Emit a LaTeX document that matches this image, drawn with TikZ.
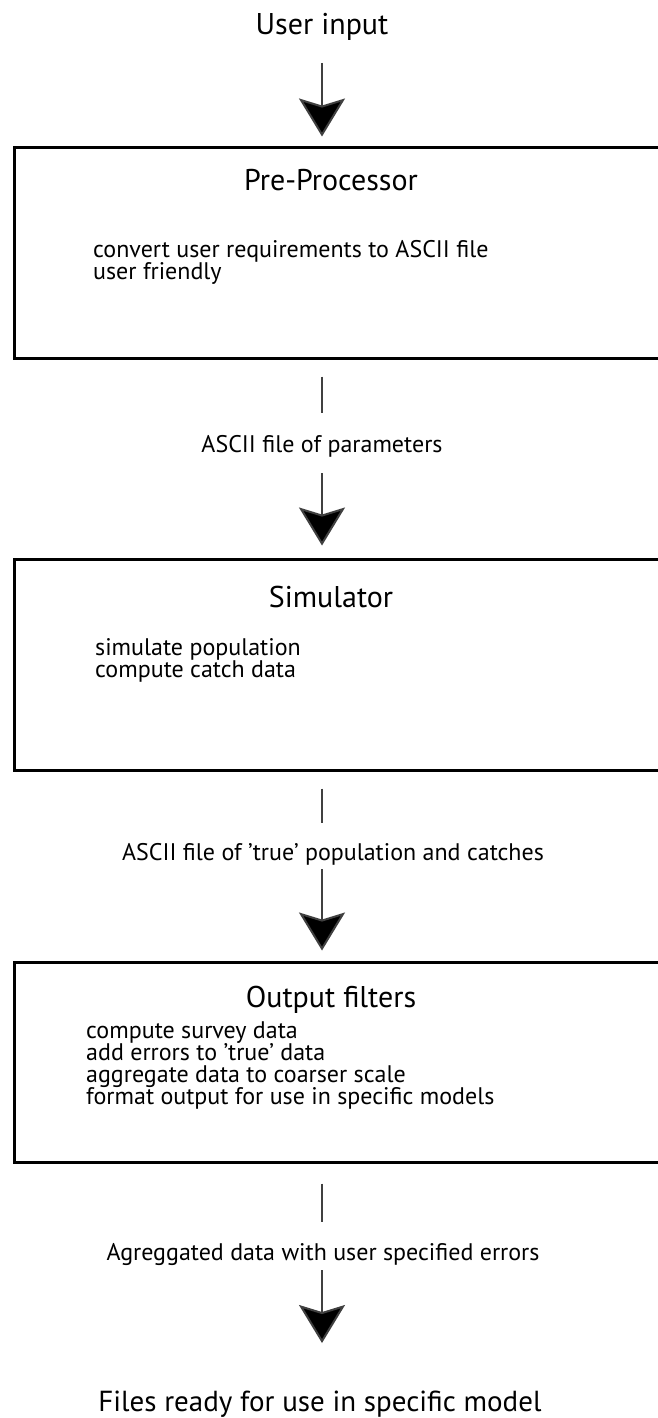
\documentclass[tikz,border=0pt]{standalone}
\usepackage{fontspec}
\setmainfont{PT Sans}
\usetikzlibrary{arrows.meta}

\begin{document}
\begin{tikzpicture}[x=1pt,y=-1pt]
  \tikzstyle{every node}=[inner sep=0pt, anchor=base]
  \tikzstyle{title}=[font=\fontsize{30}{36}\selectfont]
  \tikzstyle{stage}=[draw, anchor=center, line width=3pt, minimum width=648pt]
  \tikzstyle{head}=[font=\fontsize{30}{36}\selectfont]
  \tikzstyle{item}=[anchor=base west, font=\fontsize{24}{28}\selectfont]
  \tikzstyle{flow}=[font=\fontsize{24}{28}\selectfont]
  \tikzstyle{arr}=[line width=2pt, black!75, -{Stealth[length=38pt,width=46pt,inset=7pt,fill=black]}]
  \tikzstyle{seg}=[line width=2pt, black!75]
  \useasboundingbox (0,0) rectangle (657,1418);

  \node[title] (in) at (322,35) {User input};

  % pre-processor
  \node[stage, minimum height=211pt] (pre) at (338,252.5) {};
  \node[head] (pret) at (331,190) {Pre-Processor};
  \node[item] (pre1) at (93,257) {convert user requirements to ASCII file};
  \node[item] (pre2) at (93,279) {user friendly};

  \node[flow] (lab1) at (322,452) {ASCII file of parameters};

  % simulator
  \node[stage, minimum height=211pt] (sim) at (338,664.5) {};
  \node[head] (simt) at (331,607) {Simulator};
  \node[item] (sim1) at (95,655) {simulate population};
  \node[item] (sim2) at (95,677) {compute catch data};

  \node[flow] (lab2) at (333,860) {ASCII file of 'true' population and catches};

  % output filters
  \node[stage, minimum height=200pt] (out) at (338,1062) {};
  \node[head] (outt) at (331,1007) {Output filters};
  \node[item] (out1) at (86,1038) {compute survey data};
  \node[item] (out2) at (86,1060) {add errors to 'true' data};
  \node[item] (out3) at (86,1082) {aggregate data to coarser scale};
  \node[item] (out4) at (86,1104) {format output for use in specific models};

  \node[flow] (lab3) at (323,1260) {Agreggated data with user specified errors};

  \node[title, font=\fontsize{29}{34}\selectfont] (fin) at (320,1411) {Files ready for use in specific model};

  \draw[arr, shorten <=28pt, shorten >=9pt] (in.base) -- (in |- pre.north);
  \draw[seg, shorten <=17pt, shorten >=39pt] (in |- pre.south) -- (in |- lab1.base);
  \draw[arr, shorten <=21pt, shorten >=12pt] (in |- lab1.base) -- (in |- sim.north);
  \draw[seg, shorten <=17pt, shorten >=37pt] (in |- sim.south) -- (in |- lab2.base);
  \draw[arr, shorten <=9pt, shorten >=10pt] (in |- lab2.base) -- (in |- out.north);
  \draw[seg, shorten <=20pt, shorten >=38pt] (in |- out.south) -- (in |- lab3.base);
  \draw[arr, shorten <=10pt, shorten >=68pt] (in |- lab3.base) -- (in |- fin.base);
\end{tikzpicture}
\end{document}
